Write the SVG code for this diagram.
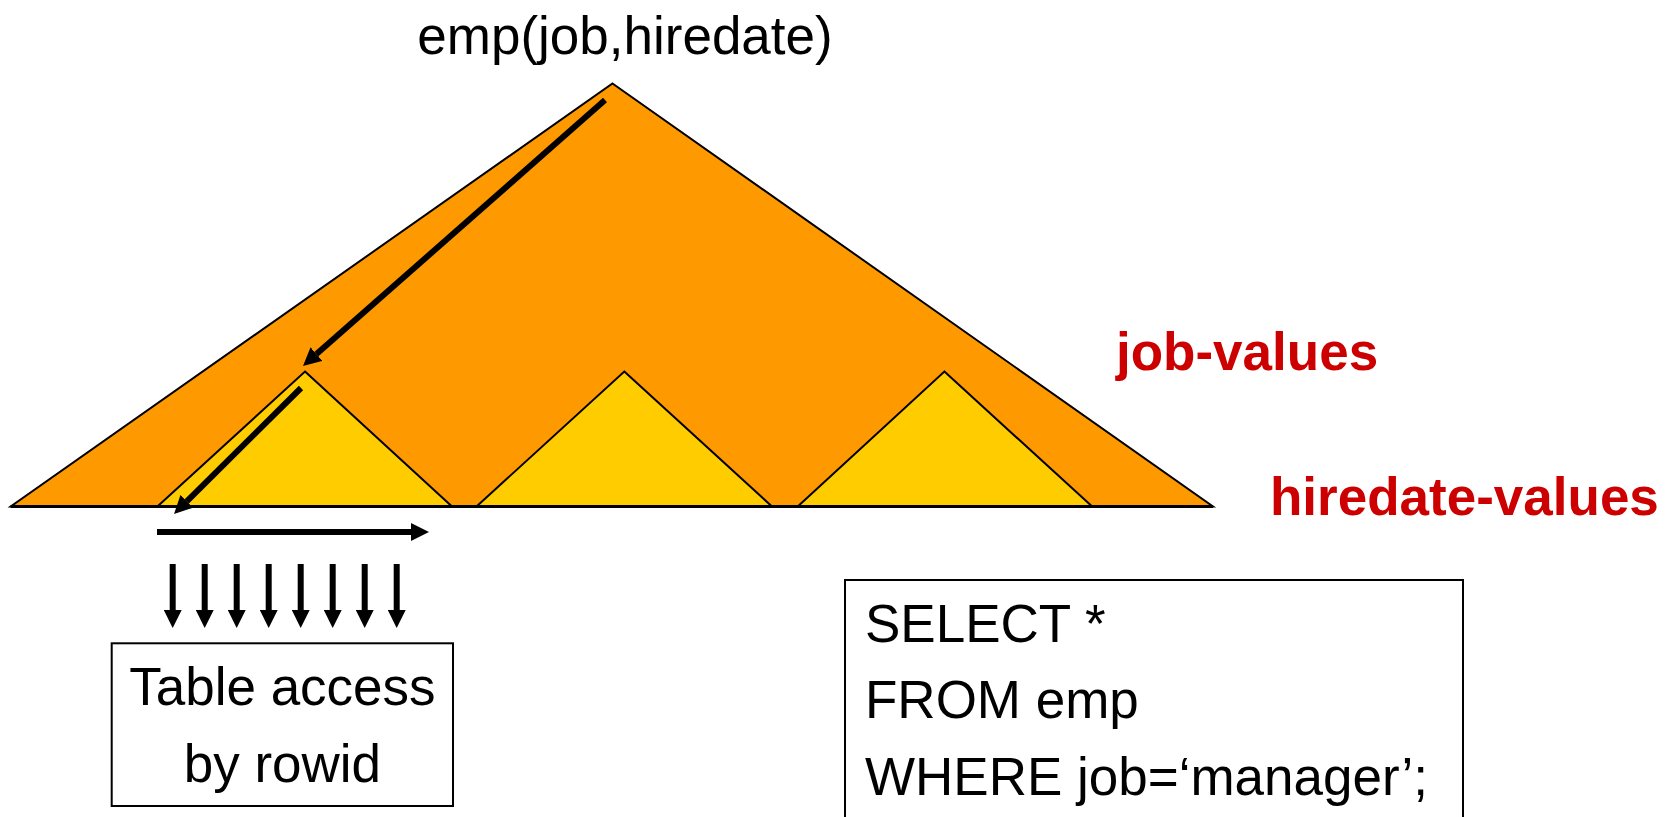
<svg xmlns="http://www.w3.org/2000/svg" width="1679" height="817" viewBox="0 0 1679 817">
<style>
.tri{stroke:#000;stroke-width:2;stroke-linejoin:miter}
.outer{fill:#FF9900}
.inner{fill:#FFCC00}
.lbl{font-family:"Liberation Sans",Arial,sans-serif;fill:#000}
.red{font-family:"Liberation Sans",Arial,sans-serif;font-weight:bold;fill:#CC0000;font-size:53px}
.box{fill:#fff;stroke:#000;stroke-width:2}
.arr{stroke:#000;stroke-width:6;fill:none;marker-end:url(#ah)}
</style>
<defs>
<marker id="ah" viewBox="0 0 18 18" refX="0" refY="9" markerWidth="18" markerHeight="18" markerUnits="userSpaceOnUse" orient="auto">
<path d="M0,0 L18,9 L0,18 z" fill="#000"/>
</marker>
</defs>
<rect width="1679" height="817" fill="#fff"/>
<g id="title"><text class="lbl" x="625" y="54" font-size="53" text-anchor="middle">emp(job,hiredate)</text></g>
<g id="tree">
<polygon class="tri outer" points="612.5,83.5 1213,506.5 10.7,506.5"/>
<polygon class="tri inner" points="305,371.6 452,506.5 157.4,506.5"/>
<polygon class="tri inner" points="624.3,371.6 772,506.5 476.5,506.5"/>
<polygon class="tri inner" points="944.4,371.6 1092.2,506.5 797.7,506.5"/>
<line x1="10.7" y1="506.5" x2="1213" y2="506.5" stroke="#000" stroke-width="3"/>
</g>
<g id="job-values"><text class="red" x="1116" y="370">job-values</text></g>
<g id="hiredate-values"><text class="red" x="1270" y="515">hiredate-values</text></g>
<g id="connectors">
<line class="arr" x1="605" y1="100" x2="316.5" y2="354.1"/>
<line class="arr" x1="301" y1="388" x2="186.8" y2="501.3"/>
<line class="arr" x1="157" y1="532" x2="411" y2="532"/>
<line class="arr" x1="172.7" y1="564" x2="172.7" y2="610"/>
<line class="arr" x1="204.7" y1="564" x2="204.7" y2="610"/>
<line class="arr" x1="236.7" y1="564" x2="236.7" y2="610"/>
<line class="arr" x1="268.7" y1="564" x2="268.7" y2="610"/>
<line class="arr" x1="300.7" y1="564" x2="300.7" y2="610"/>
<line class="arr" x1="332.7" y1="564" x2="332.7" y2="610"/>
<line class="arr" x1="364.7" y1="564" x2="364.7" y2="610"/>
<line class="arr" x1="396.7" y1="564" x2="396.7" y2="610"/>
</g>
<g id="table-access">
<rect class="box" x="111.7" y="643.3" width="341.3" height="162.7"/>
<text class="lbl" x="282.4" y="705" font-size="53" text-anchor="middle">Table access</text>
<text class="lbl" x="282.4" y="782" font-size="53" text-anchor="middle">by rowid</text>
</g>
<g id="sql">
<rect class="box" x="845" y="580" width="618" height="250"/>
<text class="lbl" x="865" y="642" font-size="53">SELECT *</text>
<text class="lbl" x="865" y="718" font-size="53">FROM emp</text>
<text class="lbl" x="865" y="795" font-size="53">WHERE job=‘manager’;</text>
</g>
</svg>
